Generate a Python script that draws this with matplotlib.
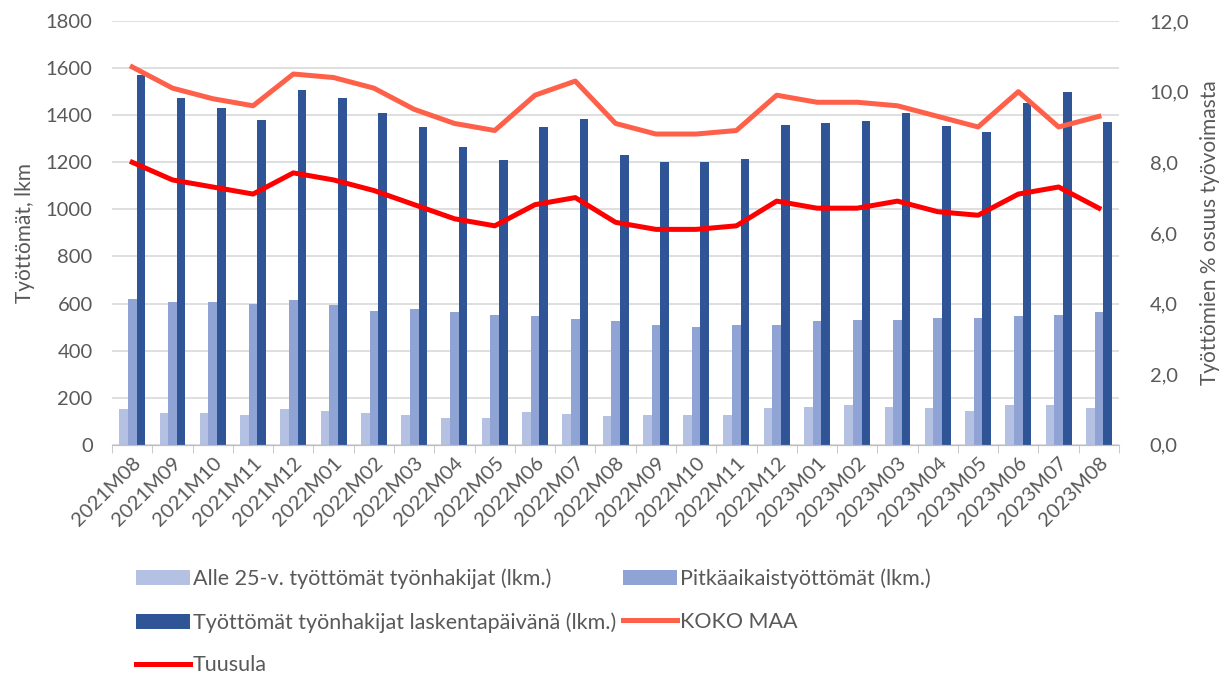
import matplotlib.pyplot as plt
import numpy as np
from matplotlib.ticker import FuncFormatter, FixedLocator

plt.rcParams['font.family'] = ['Lato', 'DejaVu Sans']

months = ['2021M08', '2021M09', '2021M10', '2021M11', '2021M12',
          '2022M01', '2022M02', '2022M03', '2022M04', '2022M05', '2022M06',
          '2022M07', '2022M08', '2022M09', '2022M10', '2022M11', '2022M12',
          '2023M01', '2023M02', '2023M03', '2023M04', '2023M05', '2023M06',
          '2023M07', '2023M08']
alle25 = [150, 135, 135, 125, 150, 145, 135, 125, 115, 115, 140, 130, 120,
          125, 125, 125, 155, 160, 170, 160, 155, 145, 170, 170, 155]
pitkaaikais = [620, 605, 605, 600, 615, 595, 570, 575, 565, 550, 545, 535, 525,
               510, 500, 510, 510, 525, 530, 530, 540, 540, 545, 550, 565]
tyottomat = [1570, 1475, 1430, 1380, 1505, 1475, 1410, 1350, 1265, 1210, 1350,
             1385, 1230, 1200, 1200, 1215, 1360, 1365, 1375, 1410, 1355, 1330,
             1450, 1500, 1370]
koko_maa = [10.7, 10.1, 9.8, 9.6, 10.5, 10.4, 10.1, 9.5, 9.1, 8.9, 9.9, 10.3,
            9.1, 8.8, 8.8, 8.9, 9.9, 9.7, 9.7, 9.6, 9.3, 9.0, 10.0, 9.0, 9.3]
tuusula = [8.0, 7.5, 7.3, 7.1, 7.7, 7.5, 7.2, 6.8, 6.4, 6.2, 6.8, 7.0, 6.3,
           6.1, 6.1, 6.2, 6.9, 6.7, 6.7, 6.9, 6.6, 6.5, 7.1, 7.3, 6.7]

c_alle = '#B4C1E2'
c_pitka = '#8FA3D5'
c_tyot = '#2F5597'
c_koko = '#FF6049'
c_tuus = '#FF0000'
txt = '#595959'

fig = plt.figure(figsize=(12.25, 6.79), dpi=100)
ax = fig.add_axes([0.0915, 0.345, 0.822, 0.624])
ax2 = ax.twinx()

x = np.arange(len(months))
w = 0.215
b1 = ax.bar(x - w, alle25, w, color=c_alle, label='Alle 25-v. työttömät työnhakijat (lkm.)', zorder=2)
b2 = ax.bar(x, pitkaaikais, w, color=c_pitka, label='Pitkäaikaistyöttömät (lkm.)', zorder=2)
b3 = ax.bar(x + w, tyottomat, w, color=c_tyot, label='Työttömät työnhakijat laskentapäivänä (lkm.)', zorder=2)
l1, = ax2.plot(x, koko_maa, color=c_koko, lw=3.6, label='KOKO MAA', solid_joinstyle='round')
l2, = ax2.plot(x, tuusula, color=c_tuus, lw=3.6, label='Tuusula', solid_joinstyle='round')

ax.set_xlim(-0.5, len(months) - 0.5)
ax.set_ylim(0, 1800)
ax.set_yticks(np.arange(0, 1801, 200))
ax2.set_ylim(0, 12)
ax2.set_yticks(np.arange(0, 12.1, 2))
ax2.yaxis.set_major_formatter(FuncFormatter(lambda v, p: f'{v:.1f}'.replace('.', ',')))

ax.grid(axis='y', color='#D9D9D9', lw=1.2, zorder=0)
ax.set_axisbelow(True)
for a in (ax, ax2):
    for s in ('top', 'left', 'right'):
        a.spines[s].set_visible(False)
    a.spines['bottom'].set_color('#BFBFBF')
    a.tick_params(axis='y', length=0, labelsize=14.5, labelcolor=txt)
ax.tick_params(axis='y', pad=14)
ax2.tick_params(axis='y', pad=22)

ax.set_xticks(x)
ax.set_xticklabels(months, rotation=45, ha='right', rotation_mode='anchor', fontsize=14.5, color=txt)
ax.tick_params(axis='x', length=0, pad=7)
ax.xaxis.set_minor_locator(FixedLocator(np.arange(-0.5, len(months), 1)))
ax.tick_params(axis='x', which='minor', length=6, color='#BFBFBF')

ax.set_ylabel('Työttömät, lkm', fontsize=15, color=txt, labelpad=8)
ax2.set_ylabel('Työttömien % osuus työvoimasta', fontsize=15, color=txt, labelpad=8)

handles = [b1, b2, b3, l1, l2]
labels = [h.get_label() for h in handles]
# row-wise order like the reference legend
order = [0, 2, 4, 1, 3]
fig.legend([handles[i] for i in order], [labels[i] for i in order],
           loc='upper left', bbox_to_anchor=(0.104, 0.175),
           ncol=2, frameon=False, fontsize=15.5, labelcolor=txt,
           handlelength=2.5, handletextpad=0.15, columnspacing=0.3,
           labelspacing=1.05, borderaxespad=0)

plt.savefig('out.png', dpi=100)
